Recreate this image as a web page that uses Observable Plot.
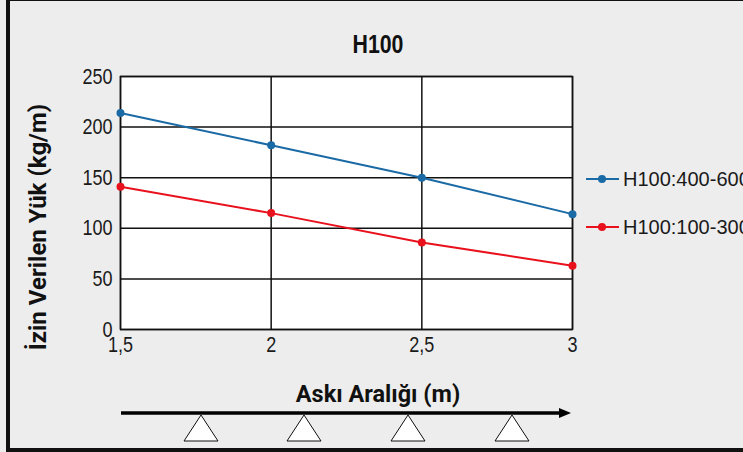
<!DOCTYPE html>
<html><head><meta charset="utf-8">
<script src="https://cdn.jsdelivr.net/npm/d3@7"></script>
<script src="https://cdn.jsdelivr.net/npm/@observablehq/plot@0.6"></script>
<style>
html,body{margin:0;padding:0;background:#ededed;}
#chart{position:relative;width:743px;height:452px;overflow:hidden;background:#ededed;}
</style></head><body><div id="chart"></div>
<script>
const spans = [1.5, 2, 2.5, 3];
const seriesNames = ["H100:400-600", "H100:100-300"];
const loadsHeavy = [214, 182, 150, 114];
const loadsLight = [141, 115, 86, 63];
const yTicks = [0, 50, 100, 150, 200, 250];
const xTickLabels = ["1,5", "2", "2,5", "3"];
const colors = ["#1a6aa6", "#e8111c"];
const titleText = "H100";
const xTitle = "Askı Aralığı (m)";
const yTitle = "İzin Verilen Yük (kg/m)";

const data = [];
spans.forEach((s, i) => {
  data.push({span: s, load: loadsHeavy[i], series: seriesNames[0]});
  data.push({span: s, load: loadsLight[i], series: seriesNames[1]});
});
const fmtX = d => xTickLabels[spans.indexOf(d)];

const plot = Plot.plot({
  width: 743, height: 452,
  marginLeft: 120, marginRight: 171, marginTop: 76, marginBottom: 123,
  style: {background: "transparent", fontFamily: "'Liberation Sans', Arial, sans-serif", fontSize: "22px", color: "#1a1a1a", overflow: "visible"},
  x: {domain: [1.5, 3], label: null},
  y: {domain: [0, 250], label: null},
  color: {domain: seriesNames, range: colors},
  marks: [
    Plot.frame({fill: "white"}),
    Plot.gridX(spans, {stroke: "#111", strokeOpacity: 1, strokeWidth: 1.5}),
    Plot.gridY(yTicks, {stroke: "#111", strokeOpacity: 1, strokeWidth: 1.5}),
    Plot.frame({stroke: "#111", strokeWidth: 1.5}),
    Plot.axisX({ticks: spans, tickFormat: fmtX, tickSize: 0, tickPadding: 7, label: null, fontSize: 22}),
    Plot.axisY({ticks: yTicks, tickSize: 0, tickPadding: 8, label: null, fontSize: 22}),
    Plot.line(data, {x: "span", y: "load", stroke: "series", strokeWidth: 2}),
    Plot.dot(data, {x: "span", y: "load", fill: "series", r: 4})
  ]
});

const svg = d3.select(plot);
// condense tick labels horizontally (narrow face)
svg.selectAll('g[aria-label="x-axis tick label"] text, g[aria-label="y-axis tick label"] text').each(function() {
  const t = this.getAttribute("transform") || "";
  this.setAttribute("transform", t + " scale(0.82,1)");
});

// outer border
svg.insert("rect", ":first-child").attr("x", 8).attr("y", -1).attr("width", 800).attr("height", 451)
  .attr("fill", "#ededed").attr("stroke", "#111").attr("stroke-width", 4);

// title
svg.append("text").attr("transform", "translate(378,53) scale(0.82,1)").attr("text-anchor", "middle")
  .attr("font-family", "'Liberation Sans', Arial, sans-serif").attr("font-weight", 700)
  .attr("font-size", 26).attr("fill", "#111").text(titleText);

// y title
svg.append("text").attr("transform", "translate(46,227) rotate(-90)").attr("text-anchor", "middle")
  .attr("font-family", "Roboto, sans-serif").attr("font-weight", 700)
  .attr("font-size", 24).attr("fill", "#111").text(yTitle);

// x title
svg.append("text").attr("x", 378).attr("y", 402).attr("text-anchor", "middle")
  .attr("font-family", "Roboto, sans-serif").attr("font-weight", 700)
  .attr("font-size", 23.5).attr("fill", "#111").text(xTitle);

// legend
const lg = svg.append("g");
seriesNames.forEach((name, i) => {
  const y = 179 + i * 48;
  lg.append("line").attr("x1", 586).attr("x2", 619).attr("y1", y).attr("y2", y).attr("stroke", colors[i]).attr("stroke-width", 2);
  lg.append("circle").attr("cx", 602).attr("cy", y).attr("r", 4).attr("fill", colors[i]);
  lg.append("text").attr("x", 623).attr("y", y).attr("dy", "0.36em").attr("text-anchor", "start")
    .attr("font-family", "'Liberation Sans', Arial, sans-serif").attr("font-size", 20).attr("fill", "#1a1a1a").text(name);
});

// arrow and supports
const deco = svg.append("g");
deco.append("line").attr("x1", 121).attr("x2", 562).attr("y1", 413).attr("y2", 413).attr("stroke", "#000").attr("stroke-width", 3.5);
deco.append("polygon").attr("points", "559,408 571,413 559,418").attr("fill", "#000");
[201, 304, 408, 512].forEach(cx => {
  deco.append("polygon").attr("points", `${cx},415 ${cx - 17},441 ${cx + 17},441`)
    .attr("fill", "#fff").attr("stroke", "#111").attr("stroke-width", 1);
});

document.getElementById("chart").appendChild(plot);
</script></body></html>
